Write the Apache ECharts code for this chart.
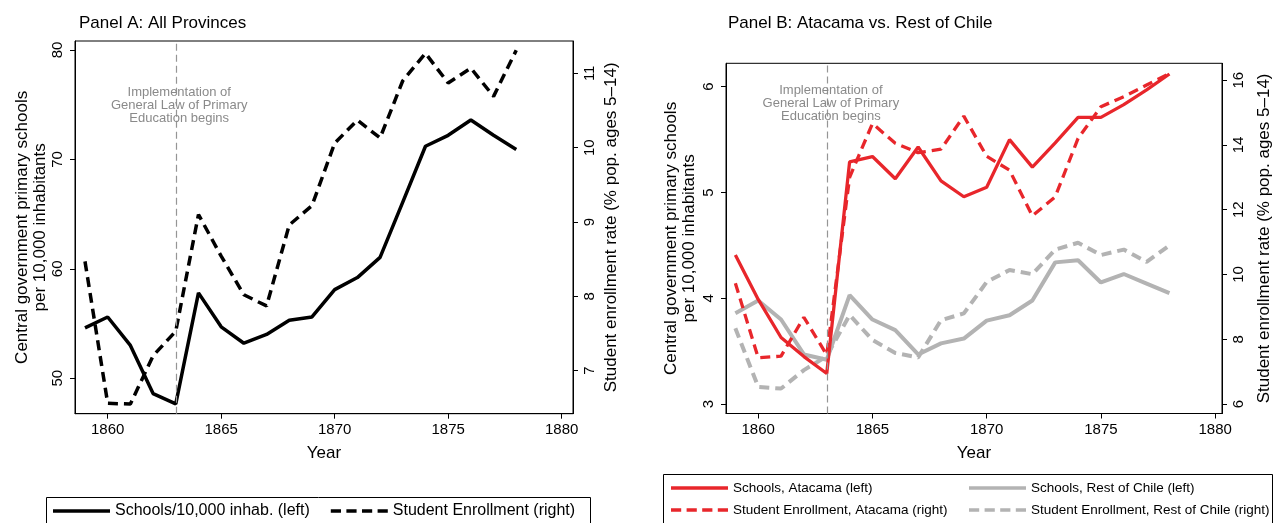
<!DOCTYPE html>
<html><head><meta charset="utf-8">
<script src="https://cdn.jsdelivr.net/npm/echarts@6/dist/echarts.min.js"></script>
<style>html,body{margin:0;padding:0;background:#fff}#c{width:1274px;height:523px}</style>
</head><body><div id="c"></div>
<script>
// ---- data ----
const years = [1859,1860,1861,1862,1863,1864,1865,1866,1867,1868,1869,1870,1871,1872,1873,1874,1875,1876,1877,1878];
const schoolsAll = [54.6,55.6,53.0,48.6,47.65,57.8,54.7,53.2,54.0,55.3,55.6,58.1,59.2,61.05,66.1,71.2,72.2,73.6,72.2,70.9];
const enrollAll = [8.47,6.56,6.55,7.2,7.53,9.1,8.54,8.02,7.87,8.96,9.22,10.06,10.37,10.13,10.9,11.27,10.87,11.07,10.69,11.31];
const schoolsAtacama = [4.41,3.99,3.63,3.45,3.29,5.29,5.34,5.13,5.43,5.11,4.96,5.05,5.50,5.24,5.47,5.71,5.71,5.83,5.97,6.12];
const enrollAtacama = [9.73,7.43,7.48,8.68,7.52,13.0,14.66,14.05,13.76,13.87,14.89,13.65,13.22,11.81,12.4,14.2,15.18,15.49,15.85,16.2];
const schoolsRest = [3.86,3.98,3.80,3.47,3.42,4.03,3.80,3.70,3.47,3.575,3.62,3.79,3.84,3.98,4.34,4.36,4.15,4.23,4.14,4.05];
const enrollRest = [8.34,6.53,6.48,7.05,7.48,8.75,7.98,7.58,7.44,8.59,8.8,9.77,10.14,10.01,10.77,10.98,10.6,10.77,10.39,10.9];
const xTicks = [1860,1865,1870,1875,1880];
const leftTicksA = [50,60,70,80];
const rightTicksA = [7,8,9,10,11];
const leftTicksB = [3,4,5,6];
const rightTicksB = [6,8,10,12,14,16];
const reformYear = 1863;
const annotationText = 'Implementation of\nGeneral Law of Primary\nEducation begins';
const titleA = 'Panel A: All Provinces';
const titleB = 'Panel B: Atacama vs. Rest of Chile';
const leftAxisTitle = 'Central government primary schools\nper 10,000 inhabitants';
const rightAxisTitle = 'Student enrollment rate (% pop. ages 5\u201314)';
const xAxisTitle = 'Year';
const namesA = ['Schools/10,000 inhab. (left)','Student Enrollment (right)'];
const namesB = ['Schools, Atacama (left)','Student Enrollment, Atacama (right)','Schools, Rest of Chile (left)','Student Enrollment, Rest of Chile (right)'];

// ---- styling ----
const FONT = '"Liberation Sans", Arial, sans-serif';
const RED = '#e8262b', GRAY = '#b3b3b3', BLACK = '#000';
const DASH = [10,6];
const pair = (arr) => years.map((y,i)=>[y,arr[i]]);
const ICON_SOLID = 'path://M0,0h56v3.4H0z';
const ICON_DASH = 'path://M0,0h10v3.4H0z M15.3,0h10v3.4h-10z M30.6,0h10v3.4h-10z M45.9,0h10v3.4h-10z';

function xAxis(grid, min, max){
  return {type:'value', gridIndex:grid, min, max,
    axisLine:{show:true,onZero:false,lineStyle:{color:BLACK,width:1}},
    axisTick:{show:true,length:5,customValues:xTicks,lineStyle:{color:BLACK}},
    axisLabel:{customValues:xTicks,margin:9,fontSize:15,color:BLACK,fontFamily:FONT,formatter:(v)=>String(v)},
    splitLine:{show:false},
    name:xAxisTitle,nameLocation:'middle',nameGap:31,
    nameTextStyle:{fontSize:17,color:BLACK,fontFamily:FONT}};
}
function yAxis(grid, pos, min, max, ticks, name, gap, margin){
  return {type:'value', gridIndex:grid, position:pos, min, max,
    axisLine:{show:true,onZero:false,lineStyle:{color:BLACK,width:1}},
    axisTick:{show:true,length:5,customValues:ticks,lineStyle:{color:BLACK}},
    axisLabel:{customValues:ticks,rotate:90,margin:margin,fontSize:15,color:BLACK,fontFamily:FONT,formatter:(v)=>String(v)},
    splitLine:{show:false},
    name:name,nameLocation:'middle',nameRotate:90,nameGap:gap,
    nameTextStyle:{fontSize:17,lineHeight:18,color:BLACK,fontFamily:FONT}};
}
const reformMark = (yVal, dx) => ({
  markLine:{silent:true,symbol:['none','none'],label:{show:false},
    lineStyle:{color:'#959595',type:[7,4],width:1.2},data:[{xAxis:reformYear}]},
  markPoint:{silent:true,symbol:'rect',symbolSize:0,
    label:{show:true,position:'inside',formatter:annotationText,color:'#8a8a8a',
      fontSize:13,lineHeight:13,fontFamily:FONT,align:'center'},
    data:[{coord:[reformYear+dx,yVal]}]}
});
const legendCommon = {padding:0,itemHeight:14,symbolKeepAspect:true};

const chart = echarts.init(document.getElementById('c'),null,{renderer:'canvas'});
const option = {
  animation:false,
  backgroundColor:'#fff',
  title:[
    {text:titleA,left:74,top:10,textStyle:{fontSize:17,fontWeight:'normal',color:BLACK,fontFamily:FONT}},
    {text:titleB,left:723,top:10,textStyle:{fontSize:17,fontWeight:'normal',color:BLACK,fontFamily:FONT}}
  ],
  grid:[
    {left:75,right:701,top:41,bottom:109.3,show:true,borderColor:BLACK,borderWidth:1,containLabel:false},
    {left:726,right:51,top:63.3,bottom:109.5,show:true,borderColor:BLACK,borderWidth:1,containLabel:false}
  ],
  xAxis:[xAxis(0,1858.56,1880.5), xAxis(1,1858.59,1880.3)],
  yAxis:[
    yAxis(0,'left',46.76,80.82,leftTicksA,leftAxisTitle,24,10),
    yAxis(0,'right',6.42,11.435,rightTicksA,rightAxisTitle,29,9),
    yAxis(1,'left',2.912,6.221,leftTicksB,leftAxisTitle,28,10),
    yAxis(1,'right',5.71,16.52,rightTicksB,rightAxisTitle,33,9)
  ],
  legend:[
    Object.assign({data:[{name:namesA[0],icon:ICON_SOLID},{name:namesA[1],icon:ICON_DASH}],
      left:53,top:503,itemWidth:57,itemGap:21,itemTextGap:11,
      textStyle:{fontSize:16,color:BLACK,fontFamily:FONT}},legendCommon),
    Object.assign({data:[{name:namesB[0],icon:ICON_SOLID},{name:namesB[1],icon:ICON_DASH}],orient:'vertical',
      left:671,top:481,itemWidth:57,itemGap:8,itemTextGap:9,
      textStyle:{fontSize:13.5,color:BLACK,fontFamily:FONT}},legendCommon),
    Object.assign({data:[{name:namesB[2],icon:ICON_SOLID},{name:namesB[3],icon:ICON_DASH}],orient:'vertical',
      left:969,top:481,itemWidth:57,itemGap:8,itemTextGap:8,
      textStyle:{fontSize:13.5,color:BLACK,fontFamily:FONT}},legendCommon)
  ],
  graphic:[
    {type:'rect',shape:{x:46.5,y:497.5,width:544,height:40},style:{fill:'none',stroke:BLACK,lineWidth:1},silent:true},
    {type:'rect',shape:{x:663.5,y:474.5,width:609,height:60},style:{fill:'none',stroke:BLACK,lineWidth:1},silent:true}
  ],
  series:[
    Object.assign({name:namesA[0],type:'line',xAxisIndex:0,yAxisIndex:0,data:pair(schoolsAll),symbol:'none',
      lineStyle:{color:BLACK,width:3.5},itemStyle:{color:BLACK},z:3}, reformMark(74.97,0.15)),
    {name:namesA[1],type:'line',xAxisIndex:0,yAxisIndex:1,data:pair(enrollAll),symbol:'none',
      lineStyle:{color:BLACK,width:3.5,type:DASH},itemStyle:{color:BLACK},z:3},
    Object.assign({name:namesB[2],type:'line',xAxisIndex:1,yAxisIndex:2,data:pair(schoolsRest),symbol:'none',
      lineStyle:{color:GRAY,width:4},itemStyle:{color:GRAY},z:2}, reformMark(5.843,0.18)),
    {name:namesB[3],type:'line',xAxisIndex:1,yAxisIndex:3,data:pair(enrollRest),symbol:'none',
      lineStyle:{color:GRAY,width:4,type:DASH},itemStyle:{color:GRAY},z:2},
    {name:namesB[0],type:'line',xAxisIndex:1,yAxisIndex:2,data:pair(schoolsAtacama),symbol:'none',
      lineStyle:{color:RED,width:3.3},itemStyle:{color:RED},z:3},
    {name:namesB[1],type:'line',xAxisIndex:1,yAxisIndex:3,data:pair(enrollAtacama),symbol:'none',
      lineStyle:{color:RED,width:3.3,type:DASH},itemStyle:{color:RED},z:3}
  ]
};
chart.setOption(option);
</script></body></html>
